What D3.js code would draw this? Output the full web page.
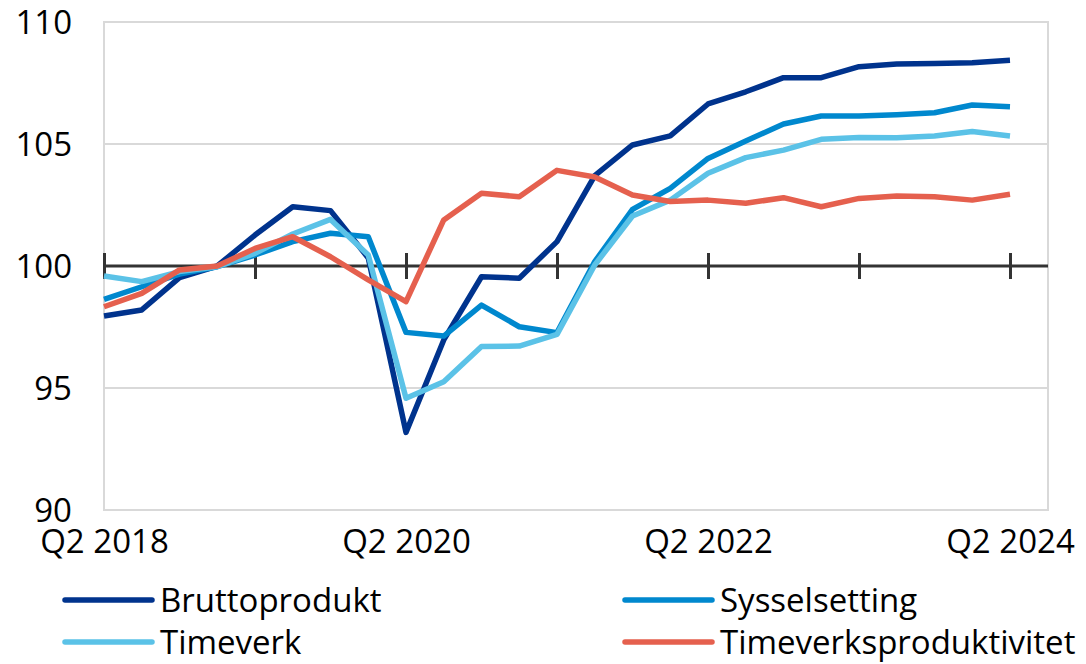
<!DOCTYPE html>
<html>
<head>
<meta charset="utf-8">
<script src="https://cdn.jsdelivr.net/npm/d3@7"></script>
<style>
  body { margin: 0; background: #fff; }
  svg text { font-family: "Open Sans", "Noto Sans", sans-serif; fill: #000; }
</style>
</head>
<body>
<svg id="chart" width="1086" height="664"></svg>
<script>
// Quarters on the x axis
var quarters = ["Q2 2018","Q3 2018","Q4 2018","Q1 2019","Q2 2019","Q3 2019","Q4 2019","Q1 2020",
  "Q2 2020","Q3 2020","Q4 2020","Q1 2021","Q2 2021","Q3 2021","Q4 2021","Q1 2022",
  "Q2 2022","Q3 2022","Q4 2022","Q1 2023","Q2 2023","Q3 2023","Q4 2023","Q1 2024","Q2 2024"];

// Series (index)
var bruttoprodukt = [97.95, 98.2, 99.52, 100.0, 101.27, 102.43, 102.27, 100.33, 93.18, 96.97, 99.56, 99.5,
  101.0, 103.7, 104.96, 105.33, 106.64, 107.14, 107.72, 107.72, 108.17, 108.28, 108.3, 108.33, 108.43];
var sysselsetting = [98.63, 99.15, 99.67, 99.97, 100.45, 101.0, 101.34, 101.2, 97.28, 97.13, 98.4, 97.51,
  97.27, 100.18, 102.32, 103.18, 104.41, 105.12, 105.82, 106.15, 106.15, 106.2, 106.28, 106.6, 106.53];
var timeverk = [99.59, 99.36, 99.77, 99.97, 100.52, 101.31, 101.91, 100.45, 94.58, 95.26, 96.7, 96.72,
  97.2, 100.04, 102.05, 102.7, 103.8, 104.44, 104.75, 105.19, 105.27, 105.26, 105.33, 105.51, 105.33];
var timeverksproduktivitet = [98.33, 98.88, 99.84, 100.0, 100.72, 101.2, 100.38, 99.43, 98.54, 101.89, 102.98, 102.84,
  103.92, 103.65, 102.91, 102.64, 102.7, 102.57, 102.8, 102.43, 102.77, 102.87, 102.84, 102.7, 102.94];

var yTicks = [90, 95, 100, 105, 110];
var xLabelQuarters = ["Q2 2018", "Q2 2020", "Q2 2022", "Q2 2024"];
var xTickQuarters = ["Q2 2018", "Q2 2019", "Q2 2020", "Q2 2021", "Q2 2022", "Q2 2023", "Q2 2024"];

var seriesNames = ["Bruttoprodukt", "Sysselsetting", "Timeverk", "Timeverksproduktivitet"];
var seriesValues = [bruttoprodukt, sysselsetting, timeverk, timeverksproduktivitet];
var seriesColors = ["#00338d", "#0088ce", "#5bc2e7", "#e5604e"];

// Plot box
var plotLeft = 104, plotRight = 1048, plotTop = 22, plotBottom = 510;
var fontSize = "33px";

var svg = d3.select("#chart");

var x = d3.scaleLinear().domain([0, quarters.length - 1]).range([104, 1010]);
var y = d3.scaleLinear().domain([90, 110]).range([plotBottom, plotTop]);

// Frame and gridlines
svg.append("rect")
  .attr("x", plotLeft).attr("y", plotTop)
  .attr("width", plotRight - plotLeft).attr("height", plotBottom - plotTop)
  .attr("fill", "none").attr("stroke", "#d9d9d9").attr("stroke-width", 2);

svg.selectAll("line.grid")
  .data([95, 105])
  .enter().append("line")
  .attr("class", "grid")
  .attr("x1", plotLeft).attr("x2", plotRight)
  .attr("y1", function (d) { return y(d); })
  .attr("y2", function (d) { return y(d); })
  .attr("stroke", "#d9d9d9").attr("stroke-width", 2);

// Y axis labels
var yAxis = d3.axisLeft(y).tickValues(yTicks).tickSize(0).tickPadding(0);
var gy = svg.append("g").attr("transform", "translate(72,0)").call(yAxis);
gy.select(".domain").remove();
gy.selectAll("text")
  .style("font-size", fontSize)
  .style("font-family", "'Open Sans', sans-serif")
  .attr("fill", "#000")
  .attr("dy", "0.35em");

// Base line at 100 with year ticks
var xTicks = d3.axisBottom(x)
  .tickValues(xTickQuarters.map(function (q) { return quarters.indexOf(q); }))
  .tickSize(12).tickFormat("");
var gx = svg.append("g").attr("transform", "translate(0," + y(100) + ")").call(xTicks);
gx.select(".domain").attr("d", "M" + plotLeft + ",0H" + plotRight).attr("stroke", "#333").attr("stroke-width", 3);
gx.selectAll(".tick line").attr("y1", -13).attr("y2", 13).attr("stroke", "#333").attr("stroke-width", 3);

// X labels
var xLabels = d3.axisBottom(x)
  .tickValues(xLabelQuarters.map(function (q) { return quarters.indexOf(q); }))
  .tickSize(0)
  .tickFormat(function (i) { return quarters[i]; });
var gl = svg.append("g").attr("transform", "translate(0,527)").call(xLabels);
gl.select(".domain").remove();
gl.selectAll("text")
  .style("font-size", fontSize)
  .style("font-family", "'Open Sans', sans-serif")
  .attr("fill", "#000");

// Lines
var line = d3.line()
  .x(function (d, i) { return x(i); })
  .y(function (d) { return y(d); });

svg.selectAll("path.series")
  .data(seriesValues)
  .enter().append("path")
  .attr("class", "series")
  .attr("d", line)
  .attr("fill", "none")
  .attr("stroke", function (d, i) { return seriesColors[i]; })
  .attr("stroke-width", 5.5)
  .attr("stroke-linejoin", "round");

// Legend
var legendPos = [[65, 600], [625, 600], [65, 642], [625, 642]];
var legend = svg.selectAll("g.legend")
  .data(seriesNames)
  .enter().append("g")
  .attr("class", "legend")
  .attr("transform", function (d, i) { return "translate(" + legendPos[i][0] + "," + legendPos[i][1] + ")"; });
legend.append("line")
  .attr("x1", 0).attr("x2", 87).attr("y1", 0).attr("y2", 0)
  .attr("stroke", function (d, i) { return seriesColors[i]; })
  .attr("stroke-width", 5.5).attr("stroke-linecap", "round");
legend.append("text")
  .attr("x", 95).attr("y", 0).attr("dy", "0.35em")
  .style("font-size", fontSize)
  .text(function (d) { return d; });
</script>
</body>
</html>
